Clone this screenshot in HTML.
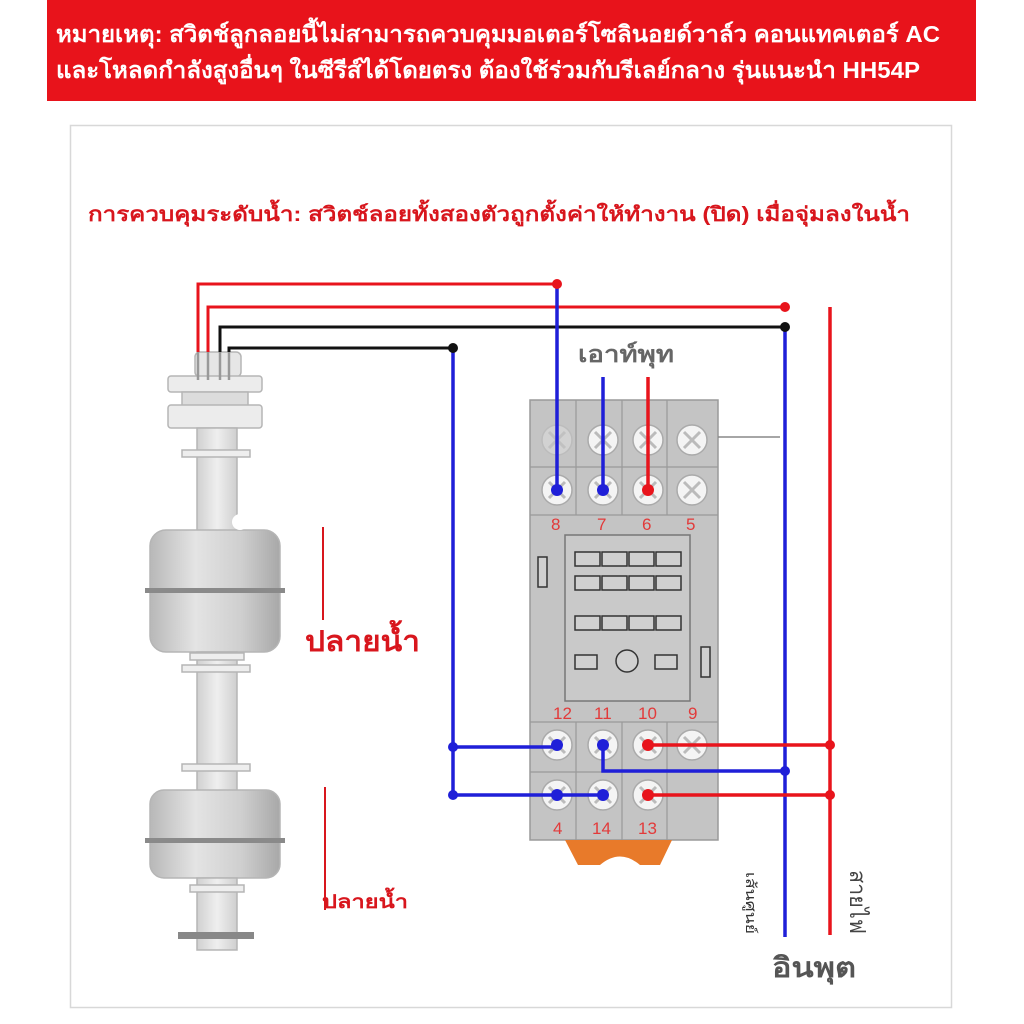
<!DOCTYPE html>
<html><head><meta charset="utf-8"><style>
body{margin:0;background:#fff}
svg{display:block}
text{font-family:"Liberation Sans","Noto Sans CJK SC",sans-serif}
</style></head><body>
<svg width="1024" height="1024" viewBox="0 0 1024 1024" xmlns="http://www.w3.org/2000/svg">
<defs>
<linearGradient id="fg" x1="0" x2="1" y1="0" y2="0">
<stop offset="0" stop-color="#b8b8b8"/><stop offset="0.35" stop-color="#e4e4e4"/><stop offset="0.7" stop-color="#cfcfcf"/><stop offset="1" stop-color="#a8a8a8"/>
</linearGradient>
<linearGradient id="sg" x1="0" x2="1"><stop offset="0" stop-color="#d0d0d0"/><stop offset="0.5" stop-color="#efefef"/><stop offset="1" stop-color="#cfcfcf"/></linearGradient>
<g id="scr"><circle r="15" fill="#f4f4f4" stroke="#aaa" stroke-width="1.5"/><path d="M-8,-8 L8,8 M-8,8 L8,-8" stroke="#bbb" stroke-width="3"/></g>
</defs>
<rect x="47" y="0" width="929" height="101" fill="#e8131b"/>
<text x="56" y="42" fill="#fff" font-size="23" font-weight="bold" textLength="884" lengthAdjust="spacingAndGlyphs">หมายเหตุ: สวิตช์ลูกลอยนี้ไม่สามารถควบคุมมอเตอร์โซลินอยด์วาล์ว คอนแทคเตอร์ AC</text>
<text x="56" y="78" fill="#fff" font-size="23" font-weight="bold" textLength="864" lengthAdjust="spacingAndGlyphs">และโหลดกำลังสูงอื่นๆ ในซีรีส์ได้โดยตรง ต้องใช้ร่วมกับรีเลย์กลาง รุ่นแนะนำ HH54P</text>
<rect x="70.5" y="125.5" width="881" height="882" fill="none" stroke="#d8d8d8" stroke-width="1.5"/>
<text x="88" y="221" fill="#d8161d" font-size="20" font-weight="bold" textLength="822" lengthAdjust="spacingAndGlyphs">การควบคุมระดับน้ำ: สวิตช์ลอยทั้งสองตัวถูกตั้งค่าให้ทำงาน (ปิด) เมื่อจุ่มลงในน้ำ</text>

<!-- float switch -->
<g stroke="#b5b5b5" stroke-width="1.5">
<rect x="195" y="352" width="46" height="25" rx="5" fill="#e6e6e6"/>
<rect x="168" y="376" width="94" height="16" rx="3" fill="#ececec"/>
<rect x="182" y="392" width="66" height="14" fill="#dcdcdc"/>
<rect x="168" y="405" width="94" height="23" rx="3" fill="#ececec"/>
<rect x="197" y="428" width="40" height="104" fill="url(#sg)"/>
<rect x="182" y="450" width="68" height="7" fill="#eee"/>
<rect x="150" y="530" width="130" height="122" rx="16" fill="url(#fg)"/>
<rect x="197" y="652" width="40" height="140" fill="url(#sg)"/>
<rect x="190" y="653" width="54" height="7" fill="#eee"/>
<rect x="182" y="665" width="68" height="7" fill="#eee"/>
<rect x="182" y="764" width="68" height="7" fill="#eee"/>
<rect x="150" y="790" width="130" height="88" rx="14" fill="url(#fg)"/>
<rect x="197" y="878" width="40" height="72" fill="url(#sg)"/>
<rect x="190" y="885" width="54" height="7" fill="#eee"/>
</g>
<rect x="145" y="588" width="140" height="5" fill="#8a8a8a"/>
<rect x="145" y="838" width="140" height="5" fill="#8a8a8a"/>
<rect x="178" y="932" width="76" height="7" fill="#888"/>
<circle cx="240" cy="522" r="8" fill="#fff"/>
<g stroke="#999" stroke-width="2.5"><path d="M198,352V380M208,352V380M220,352V380M229,352V380"/></g>

<!-- wires from float -->
<g fill="none" stroke-width="3">
<path d="M198,352V284H557" stroke="#e8141c"/>
<path d="M208,352V307H785" stroke="#e8141c"/>
<path d="M220,352V327H785" stroke="#111"/>
<path d="M229,352V348H453" stroke="#111"/>
</g>

<!-- relay base -->
<rect x="530" y="400" width="188" height="440" fill="#c4c4c4" stroke="#9a9a9a" stroke-width="1.5"/>
<g stroke="#999" stroke-width="1.2" fill="none">
<path d="M530,467H718M530,515H718M576,400V515M622,400V515M667,400V515"/>
<path d="M530,722H718M530,772H718M576,722V840M622,722V840M667,722V840"/>
</g>
<rect x="565" y="535" width="125" height="166" fill="#c9c9c9" stroke="#777" stroke-width="1.5"/>
<g fill="#d0d0d0" stroke="#333" stroke-width="1.5">
<rect x="575" y="552" width="25" height="14"/><rect x="602" y="552" width="25" height="14"/><rect x="629" y="552" width="25" height="14"/><rect x="656" y="552" width="25" height="14"/>
<rect x="575" y="576" width="25" height="14"/><rect x="602" y="576" width="25" height="14"/><rect x="629" y="576" width="25" height="14"/><rect x="656" y="576" width="25" height="14"/>
<rect x="575" y="616" width="25" height="14"/><rect x="602" y="616" width="25" height="14"/><rect x="629" y="616" width="25" height="14"/><rect x="656" y="616" width="25" height="14"/>
<rect x="575" y="655" width="22" height="14"/><rect x="655" y="655" width="22" height="14"/>
<circle cx="627" cy="661" r="11"/>
<rect x="538" y="557" width="9" height="30"/><rect x="701" y="647" width="9" height="30"/>
</g>
<g>
<use href="#scr" x="557" y="440" opacity="0.3"/><use href="#scr" x="603" y="440"/><use href="#scr" x="648" y="440"/><use href="#scr" x="692" y="440"/>
<use href="#scr" x="557" y="490"/><use href="#scr" x="603" y="490"/><use href="#scr" x="648" y="490"/><use href="#scr" x="692" y="490"/>
<use href="#scr" x="557" y="745"/><use href="#scr" x="603" y="745"/><use href="#scr" x="648" y="745"/><use href="#scr" x="692" y="745"/>
<use href="#scr" x="557" y="795"/><use href="#scr" x="603" y="795"/><use href="#scr" x="648" y="795"/>
</g>
<path d="M565,840H672L660,865H640Q620,848 600,865H578Z" fill="#e87a2a"/>
<g fill="#e23a3a" font-size="17">
<text x="551" y="530">8</text><text x="597" y="530">7</text><text x="642" y="530">6</text><text x="686" y="530">5</text>
<text x="553" y="719">12</text><text x="594" y="719">11</text><text x="638" y="719">10</text><text x="688" y="719">9</text>
<text x="553" y="834">4</text><text x="592" y="834">14</text><text x="638" y="834">13</text>
</g>
<path d="M718,437H780" stroke="#888" stroke-width="1.5"/>

<!-- colored wires -->
<g fill="none" stroke-width="3.5">
<path d="M557,284V490" stroke="#1f1fd8"/>
<path d="M603,377V490" stroke="#1f1fd8"/>
<path d="M648,377V490" stroke="#e8141c"/>
<path d="M785,327V937" stroke="#1f1fd8"/>
<path d="M830,307V935" stroke="#e8141c"/>
<path d="M453,348V795" stroke="#1f1fd8"/>
<path d="M453,747H557" stroke="#1f1fd8"/>
<path d="M453,795H603" stroke="#1f1fd8"/>
<path d="M603,745V771H785" stroke="#1f1fd8"/>
<path d="M648,745H830" stroke="#e8141c"/>
<path d="M648,795H830" stroke="#e8141c"/>
</g>
<g>
<circle cx="557" cy="284" r="5" fill="#e8141c"/><circle cx="785" cy="307" r="5" fill="#e8141c"/>
<circle cx="785" cy="327" r="5" fill="#111"/><circle cx="453" cy="348" r="5" fill="#111"/>
<circle cx="557" cy="490" r="6" fill="#1f1fd8"/><circle cx="603" cy="490" r="6" fill="#1f1fd8"/><circle cx="648" cy="490" r="6" fill="#e8141c"/>
<circle cx="557" cy="745" r="6" fill="#1f1fd8"/><circle cx="603" cy="745" r="6" fill="#1f1fd8"/><circle cx="648" cy="745" r="6" fill="#e8141c"/>
<circle cx="557" cy="795" r="6" fill="#1f1fd8"/><circle cx="603" cy="795" r="6" fill="#1f1fd8"/><circle cx="648" cy="795" r="6" fill="#e8141c"/>
<circle cx="453" cy="747" r="5" fill="#1f1fd8"/><circle cx="453" cy="795" r="5" fill="#1f1fd8"/>
<circle cx="785" cy="771" r="5" fill="#1f1fd8"/><circle cx="830" cy="745" r="5" fill="#e8141c"/><circle cx="830" cy="795" r="5" fill="#e8141c"/>
</g>

<!-- labels -->
<path d="M323,527V620M325,787V910" stroke="#d8161d" stroke-width="2"/>
<text x="305" y="651" fill="#d8161d" font-size="29" font-weight="bold" textLength="115" lengthAdjust="spacingAndGlyphs">ปลายน้ำ</text>
<text x="322" y="908" fill="#d8161d" font-size="19" font-weight="bold" textLength="86" lengthAdjust="spacingAndGlyphs">ปลายน้ำ</text>
<text x="578" y="362" fill="#666" font-size="23" font-weight="bold" textLength="96" lengthAdjust="spacingAndGlyphs">เอาท์พุท</text>
<text x="772" y="977" fill="#555" font-size="28" font-weight="bold" textLength="84" lengthAdjust="spacingAndGlyphs">อินพุต</text>
<text transform="translate(746,872) rotate(90)" fill="#333" font-size="14" textLength="62" lengthAdjust="spacingAndGlyphs">เส้นศูนย์</text>
<text transform="translate(850,870) rotate(90)" fill="#444" font-size="22" textLength="64" lengthAdjust="spacingAndGlyphs">สายไฟ</text>
</svg>
</body></html>
